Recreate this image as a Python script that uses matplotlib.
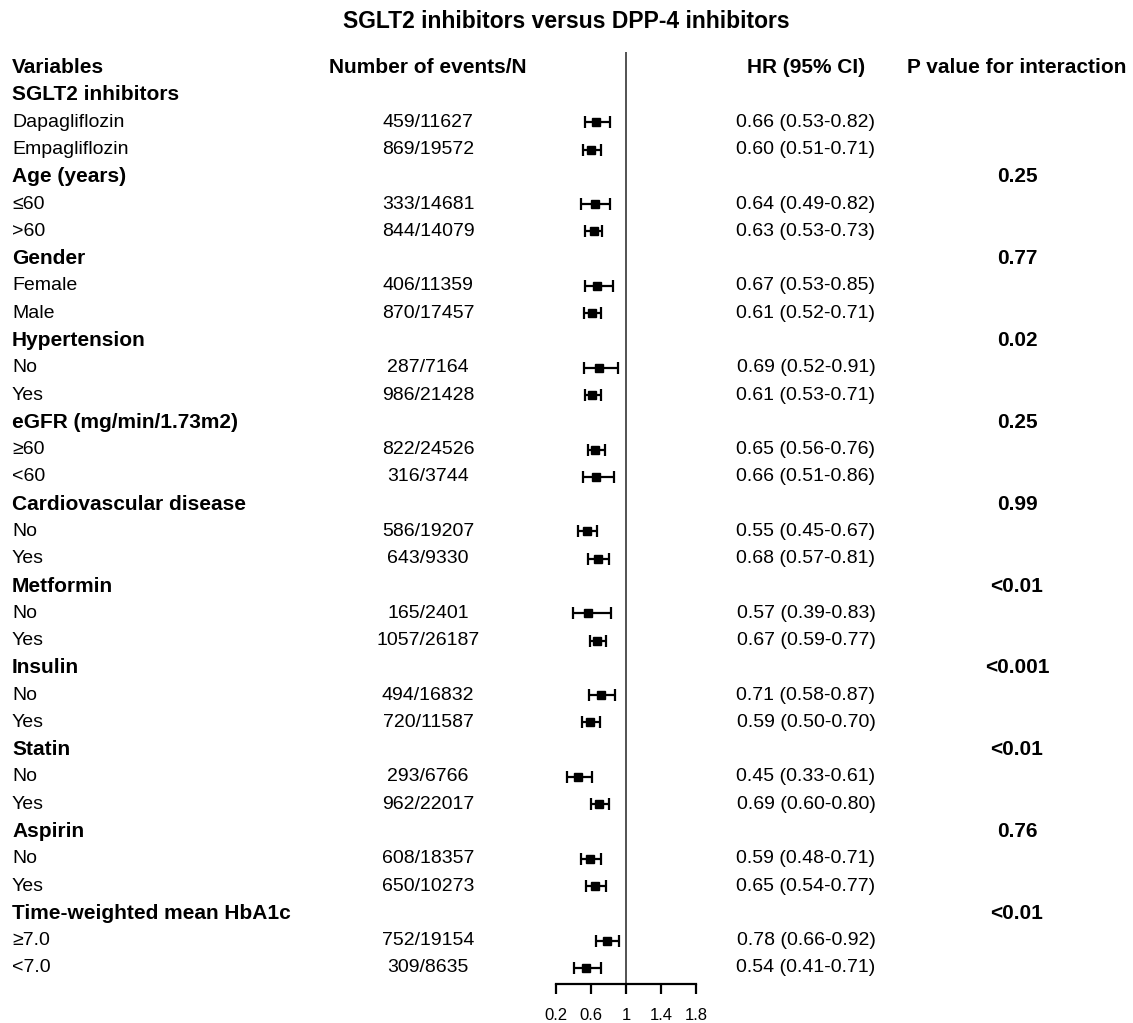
## forest plot: SGLT2 inhibitors vs DPP-4 inhibitors by subgroup

import matplotlib
matplotlib.use("Agg")
import matplotlib.pyplot as plt
from matplotlib.transforms import blended_transform_factory

plt.rcParams['font.family'] = ['Liberation Sans', 'DejaVu Sans']

## row data (None marks a group heading row)
labels = ["SGLT2 inhibitors", "Dapagliflozin", "Empagliflozin",
          "Age (years)", "≤60", ">60",
          "Gender", "Female", "Male",
          "Hypertension", "No", "Yes",
          "eGFR (mg/min/1.73m2)", "≥60", "<60",
          "Cardiovascular disease", "No", "Yes",
          "Metformin", "No", "Yes",
          "Insulin", "No", "Yes",
          "Statin", "No", "Yes",
          "Aspirin", "No", "Yes",
          "Time-weighted mean HbA1c", "≥7.0", "<7.0"]
events = [None, "459/11627", "869/19572",
          None, "333/14681", "844/14079",
          None, "406/11359", "870/17457",
          None, "287/7164", "986/21428",
          None, "822/24526", "316/3744",
          None, "586/19207", "643/9330",
          None, "165/2401", "1057/26187",
          None, "494/16832", "720/11587",
          None, "293/6766", "962/22017",
          None, "608/18357", "650/10273",
          None, "752/19154", "309/8635"]
hr = [None, 0.66, 0.60, None, 0.64, 0.63, None, 0.67, 0.61, None, 0.69, 0.61,
      None, 0.65, 0.66, None, 0.55, 0.68, None, 0.57, 0.67, None, 0.71, 0.59,
      None, 0.45, 0.69, None, 0.59, 0.65, None, 0.78, 0.54]
ci_low = [None, 0.53, 0.51, None, 0.49, 0.53, None, 0.53, 0.52, None, 0.52, 0.53,
          None, 0.56, 0.51, None, 0.45, 0.57, None, 0.39, 0.59, None, 0.58, 0.50,
          None, 0.33, 0.60, None, 0.48, 0.54, None, 0.66, 0.41]
ci_high = [None, 0.82, 0.71, None, 0.82, 0.73, None, 0.85, 0.71, None, 0.91, 0.71,
           None, 0.76, 0.86, None, 0.67, 0.81, None, 0.83, 0.77, None, 0.87, 0.70,
           None, 0.61, 0.80, None, 0.71, 0.77, None, 0.92, 0.71]
p_values = [None, None, None, "0.25", None, None, "0.77", None, None, "0.02", None, None,
            "0.25", None, None, "0.99", None, None, "<0.01", None, None, "<0.001", None, None,
            "<0.01", None, None, "0.76", None, None, "<0.01", None, None]
ticks = [0.2, 0.6, 1, 1.4, 1.8]

W, H = 1133, 1023
fig = plt.figure(figsize=(W / 100, H / 100), dpi=100)

row_h = 27.28
row0 = 67.7          # pixel y of the header row
top_px, axis_px = 52, 984
x_left_px = 556      # pixel x of 0.2
x_right_px = 696     # pixel x of 1.8

ax = fig.add_axes([x_left_px / W, 1 - axis_px / H,
                   (x_right_px - x_left_px) / W, (axis_px - top_px) / H])
ax.set_xlim(0.2, 1.8)
ax.set_ylim((axis_px - row0) / row_h, (top_px - row0) / row_h)
ax.patch.set_visible(False)
for s in ["top", "left", "right"]:
    ax.spines[s].set_visible(False)
ax.spines["bottom"].set_linewidth(1.6)
ax.set_yticks([])
ax.set_xticks(ticks)
ax.set_xticklabels([f"{t:g}" for t in ticks], fontsize=12)
ax.tick_params(axis="x", length=7, width=1.6, pad=10)

ax.axvline(1, color="#444444", lw=1.3, zorder=1)

rows = [i + 1 for i in range(len(labels))]
for y, h, lo, hi in zip(rows, hr, ci_low, ci_high):
    if h is None:
        continue
    ax.errorbar(h, y, xerr=[[h - lo], [hi - h]], fmt="s", color="black",
                markersize=5.5, elinewidth=1.6, capsize=4.5, capthick=1.6, zorder=3)

tr = blended_transform_factory(fig.transFigure, ax.transData)
x_lab, x_ev, x_hr, x_p = 12 / W, 428 / W, 806 / W, 1017 / W

# column headings
ax.text(x_lab, 0, "Variables", transform=tr, fontsize=15, fontweight="bold", va="center")
ax.text(x_ev, 0, "Number of events/N", transform=tr, fontsize=15, fontweight="bold",
        va="center", ha="center")
ax.text(x_hr, 0, "HR (95% CI)", transform=tr, fontsize=15, fontweight="bold",
        va="center", ha="center")
ax.text(x_p, 0, "P value for interaction", transform=tr, fontsize=15, fontweight="bold",
        va="center", ha="center")

for y, lab, ev, h, lo, hi, p in zip(rows, labels, events, hr, ci_low, ci_high, p_values):
    if h is None:
        ax.text(x_lab, y, lab, transform=tr, fontsize=15, fontweight="bold", va="center")
    else:
        ax.text(x_lab, y, lab, transform=tr, fontsize=14, va="center")
        ax.text(x_ev, y, ev, transform=tr, fontsize=14, va="center", ha="center")
        ax.text(x_hr, y, f"{h:.2f} ({lo:.2f}-{hi:.2f})", transform=tr, fontsize=14,
                va="center", ha="center")
    if p is not None:
        ax.text(x_p, y, p, transform=tr, fontsize=15, fontweight="bold",
                va="center", ha="center")

fig.text(566 / W, 1 - 21 / H, "SGLT2 inhibitors versus DPP-4 inhibitors",
         fontsize=16.5, fontweight="bold", ha="center", va="center")

plt.savefig("out.png", dpi=100)
